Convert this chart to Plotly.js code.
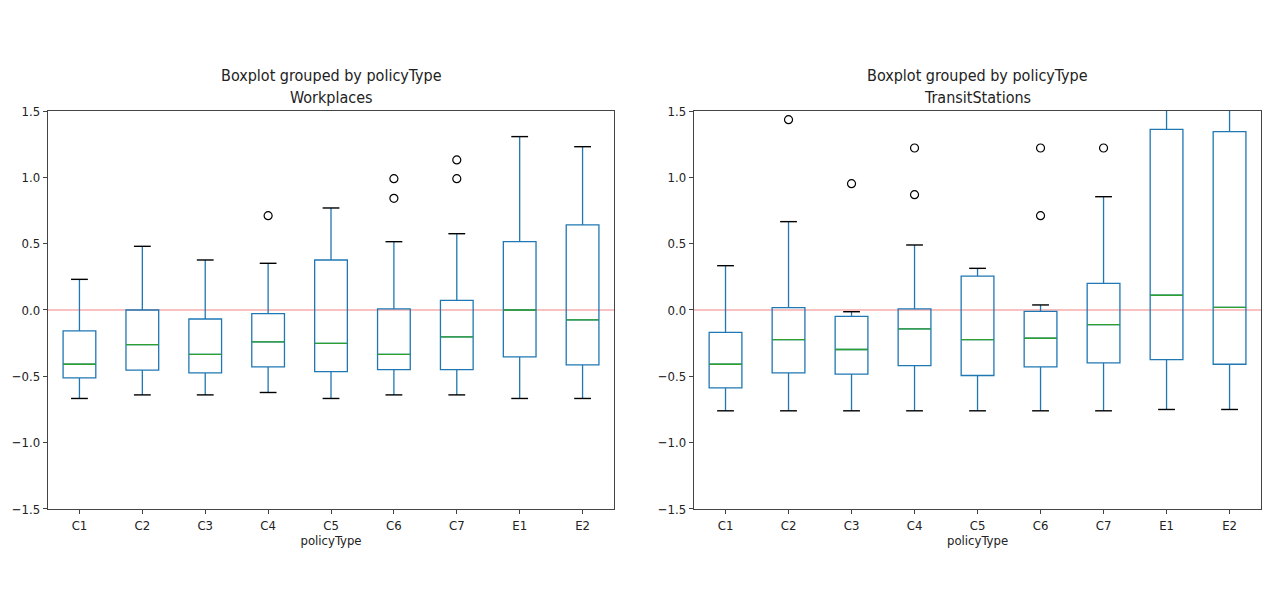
<!DOCTYPE html>
<html>
<head>
<meta charset="utf-8">
<script src="https://cdn.plot.ly/plotly-3.0.1.min.js"></script>
<style>html,body{margin:0;padding:0;background:#fff;}#chart{width:1280px;height:593px;}</style>
</head>
<body>
<div id="chart"></div>
<script>
const categories = ["C1","C2","C3","C4","C5","C6","C7","E1","E2"];

// Workplaces
const wpLower  = [-0.667,-0.640,-0.640,-0.622,-0.667,-0.640,-0.640,-0.667,-0.667];
const wpQ1     = [-0.512,-0.454,-0.474,-0.429,-0.464,-0.449,-0.449,-0.354,-0.414];
const wpMedian = [-0.409,-0.261,-0.334,-0.241,-0.251,-0.334,-0.203, 0.000,-0.075];
const wpQ3     = [-0.158, 0.000,-0.068,-0.028, 0.377, 0.008, 0.073, 0.515, 0.641];
const wpUpper  = [ 0.231, 0.480, 0.377, 0.352, 0.769, 0.515, 0.575, 1.307, 1.231];
const wpOutX   = ["C4","C6","C6","C7","C7"];
const wpOutY   = [0.711, 0.990, 0.842, 1.131, 0.990];

// TransitStations
const tsLower  = [-0.760,-0.760,-0.760,-0.760,-0.760,-0.760,-0.760,-0.750,-0.750];
const tsQ1     = [-0.587,-0.474,-0.484,-0.419,-0.494,-0.429,-0.399,-0.374,-0.409];
const tsMedian = [-0.409,-0.223,-0.298,-0.143,-0.223,-0.213,-0.110, 0.111, 0.020];
const tsQ3     = [-0.168, 0.018,-0.048, 0.008, 0.256,-0.010, 0.201, 1.362, 1.344];
const tsUpper  = [ 0.334, 0.666,-0.013, 0.490, 0.314, 0.038, 0.854, 2.000, 2.000];
const tsOutX   = ["C2","C3","C4","C4","C6","C6","C7"];
const tsOutY   = [1.435, 0.952, 1.221, 0.869, 1.221, 0.711, 1.221];

const BLUE = "#1f77b4", GREEN = "#2ca02c";

function panel(xa, ya, lower, q1, med, q3, upper, outX, outY) {
  return [
    {type:"box", xaxis:xa, yaxis:ya, x:categories, lowerfence:lower, q1:q1, median:med, q3:q3, upperfence:upper,
     width:0.52, whiskerwidth:0, fillcolor:"rgba(0,0,0,0)", line:{color:BLUE, width:1.3}, boxpoints:false,
     showlegend:false, hoverinfo:"skip"},
    {type:"scatter", mode:"markers", xaxis:xa, yaxis:ya, x:categories.concat(categories), y:lower.concat(upper),
     marker:{symbol:"line-ew-open", size:12, color:"#000", line:{width:1.4, color:"#000"}}, showlegend:false, hoverinfo:"skip"},
    {type:"scatter", mode:"markers", xaxis:xa, yaxis:ya, x:categories, y:med,
     marker:{symbol:"line-ew-open", size:23.3, color:GREEN, line:{width:1.3, color:GREEN}}, showlegend:false, hoverinfo:"skip"},
    {type:"scatter", mode:"markers", xaxis:xa, yaxis:ya, x:outX, y:outY,
     marker:{symbol:"circle-open", size:8, color:"#000", line:{width:1.2, color:"#000"}}, showlegend:false, hoverinfo:"skip"}
  ];
}

const data = panel("x","y",wpLower,wpQ1,wpMedian,wpQ3,wpUpper,wpOutX,wpOutY)
  .concat(panel("x2","y2",tsLower,tsQ1,tsMedian,tsQ3,tsUpper,tsOutX,tsOutY));

const FAM = "DejaVu Sans Condensed, DejaVu Sans, sans-serif";
const font = {family:FAM, size:13, color:"#222"};
function xax(dom, anchor){
  return {domain:dom, anchor:anchor, type:"category", categoryorder:"array", categoryarray:categories,
    range:[-0.5,8.5], showline:true, mirror:true, linecolor:"#444", linewidth:1.2, showgrid:false, zeroline:false,
    ticks:"outside", ticklen:4, tickcolor:"#444", tickfont:font,
    title:{text:"policyType", font:font, standoff:4}};
}
function yax(anchor){
  return {domain:[0.1417,0.8128], anchor:anchor, range:[-1.5,1.5], tickvals:[-1.5,-1.0,-0.5,0,0.5,1.0,1.5],
    tickformat:".1f", showline:true, mirror:true, linecolor:"#444", linewidth:1.2, showgrid:false, zeroline:false,
    ticks:"outside", ticklen:4, tickcolor:"#444", tickfont:font};
}
const tfont = {family:FAM, size:16, color:"#222"};
const layout = {
  width:1280, height:593, margin:{l:0,r:0,t:0,b:0}, paper_bgcolor:"#fff", plot_bgcolor:"#fff",
  xaxis:xax([0.0375,0.4797],"y"), yaxis:yax("x"),
  xaxis2:xax([0.5422,0.9852],"y2"), yaxis2:yax("x2"),
  shapes:[
    {type:"line", xref:"x domain", yref:"y", x0:0, x1:1, y0:0, y1:0, line:{color:"rgba(240,100,100,0.8)", width:1}, layer:"below"},
    {type:"line", xref:"x2 domain", yref:"y2", x0:0, x1:1, y0:0, y1:0, line:{color:"rgba(240,100,100,0.8)", width:1}, layer:"below"}
  ],
  annotations:[
    {xref:"x domain", yref:"paper", x:0.5, y:(593-75)/593, text:"Boxplot grouped by policyType", showarrow:false, font:tfont, yanchor:"middle"},
    {xref:"x domain", yref:"paper", x:0.5, y:(593-98)/593, text:"Workplaces", showarrow:false, font:tfont, yanchor:"middle"},
    {xref:"x2 domain", yref:"paper", x:0.5, y:(593-75)/593, text:"Boxplot grouped by policyType", showarrow:false, font:tfont, yanchor:"middle"},
    {xref:"x2 domain", yref:"paper", x:0.5, y:(593-98)/593, text:"TransitStations", showarrow:false, font:tfont, yanchor:"middle"}
  ]
};
Plotly.newPlot("chart", data, layout, {displayModeBar:false, staticPlot:true});
</script>
</body>
</html>
